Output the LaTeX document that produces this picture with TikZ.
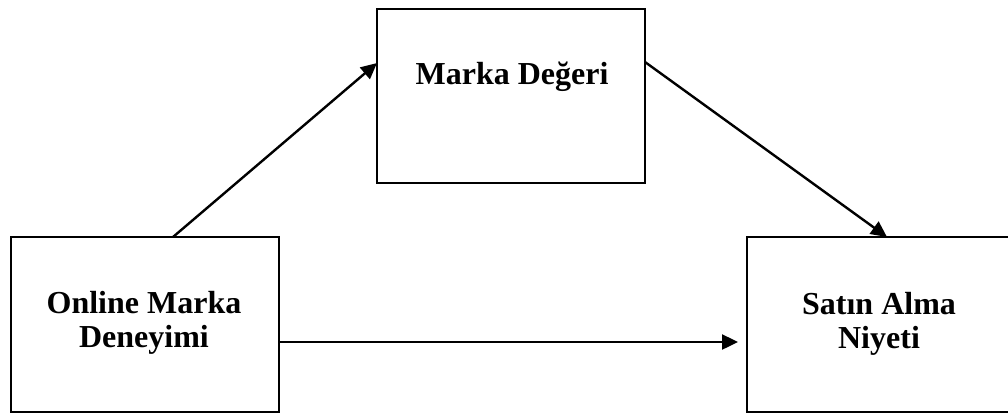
\documentclass[tikz,border=0pt]{standalone}
\usepackage{fontspec}
\setmainfont{Liberation Serif}
\usetikzlibrary{arrows.meta,calc}
\begin{document}
\begin{tikzpicture}[x=1pt,y=-1pt,
  box/.style={draw=black,line width=2.2pt,inner sep=0pt,outer sep=0pt},
  txt/.style={font=\fontsize{32}{34}\selectfont\bfseries,align=center,inner sep=0pt},
  arr/.style={line width=2.4pt,-{Triangle[length=16pt,width=15pt]}}]
\useasboundingbox (0,0) rectangle (1008,413);
\fill[white] (0,0) rectangle (1008,413);
\node[box,minimum width=268pt,minimum height=175pt] (lb) at (145,324.5) {};
\node[box,minimum width=268pt,minimum height=174pt] (tb) at (511,96) {};
\node[box,minimum width=265pt,minimum height=175pt] (rb) at (879.5,324.5) {};
\node[txt] (lt) at (144,323) {Online Marka\\Deneyimi};
\node[txt] (tt) at (512,77) {Marka Değeri};
\node[txt] (rt) at (879,324) {Satın Alma\\Niyeti};
\draw[arr] ($(lb.north west)+(162,0)$) -- ($(tb.north west)+(0,54)$);
\draw[arr] ($(tb.north east)+(0,53)$) -- ($(rb.north west)+(140,0)$);
\draw[arr] ($(lb.east)+(0,17.5)$) -- ($(rb.west)+(-9,17.5)$);
\end{tikzpicture}
\end{document}
